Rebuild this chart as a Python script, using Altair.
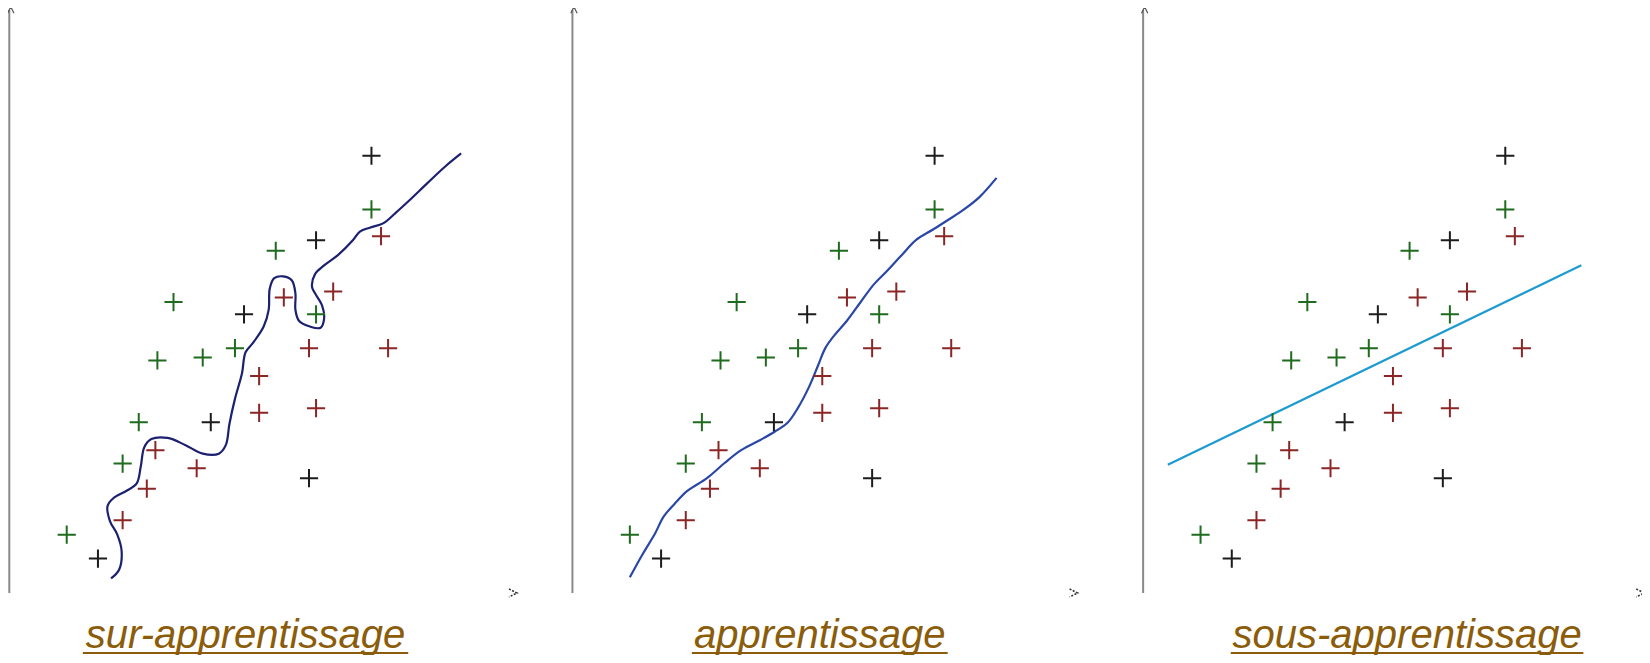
import altair as alt
import pandas as pd

# ---- data (normalised units: 0-100 along each panel's axes) ----
titres = ["sur-apprentissage", "apprentissage", "sous-apprentissage"]
decalage = [0.0, 111.8, 225.1]          # horizontal offset of each panel
titre_x = [46.9, 49.1, 52.4]             # title centre inside each panel
demi_largeur = [32.3, 25.4, 35.0]        # half width of underline
fleche_x = [100.0, 99.5, 98.7]

pts_x = [11.4, 17.6, 22.5, 22.5, 27.3, 29.0, 25.7, 29.4, 32.6, 37.2, 38.4, 40.0, 44.8, 46.6,
         49.6, 49.6, 52.9, 54.5, 59.5, 59.5, 60.9, 60.9, 60.9, 64.3, 71.9, 71.9, 73.8, 75.2]
pts_y = [10.0, 5.9, 12.5, 22.2, 17.9, 24.5, 29.3, 39.9, 49.9, 21.4, 40.4, 29.3, 42.0, 47.8,
         37.2, 30.9, 58.7, 50.7, 42.0, 19.7, 60.5, 47.8, 31.7, 51.7, 75.0, 65.8, 61.2, 42.0]
pts_c = ["v", "n", "r", "v", "r", "r", "v", "v", "v", "r", "v", "n", "v", "n",
         "r", "r", "v", "r", "r", "n", "n", "v", "r", "r", "n", "v", "r", "r"]

c1_x = [20.2, 21.8, 22.3, 21.4, 20.0, 19.5, 20.7, 23.2, 25.3, 26.1, 26.8, 28.2, 31.4, 34.9,
        38.4, 41.6, 43.0, 43.7, 44.8, 46.2, 46.9, 48.3, 50.5, 51.5, 51.7, 52.6, 54.4, 56.1,
        56.8, 56.8, 57.5, 59.7, 61.8, 62.5, 62.1, 60.7, 60.1, 60.7, 62.5, 65.3, 68.2, 69.6,
        71.7, 74.2, 76.7, 79.5, 83.0, 86.6, 89.7]
c1_y = [2.5, 4.0, 7.2, 10.1, 12.3, 14.9, 16.3, 17.5, 18.8, 21.7, 25.0, 26.4, 26.6, 25.4,
        23.9, 23.9, 25.4, 29.0, 33.3, 37.7, 41.3, 42.8, 45.7, 48.6, 52.2, 54.0, 54.3, 53.6,
        51.4, 48.6, 46.7, 45.7, 45.5, 47.1, 49.3, 51.4, 52.5, 54.7, 56.2, 58.0, 60.5, 62.0,
        62.7, 63.4, 65.2, 67.4, 70.3, 73.2, 75.4]

c2_x = [11.4, 13.9, 16.4, 18.1, 20.3, 22.8, 26.7, 30.2, 33.5, 37.4, 40.2, 42.7, 44.8, 47.0,
        48.8, 50.2, 52.0, 54.5, 57.3, 59.8, 62.3, 65.1, 68.3, 71.5, 74.4, 77.6, 80.8, 84.2]
c2_y = [2.7, 6.6, 10.2, 13.1, 15.3, 17.5, 19.7, 22.3, 24.5, 26.3, 27.7, 29.2, 31.8, 35.4,
        39.1, 42.0, 44.2, 46.7, 50.0, 52.9, 55.1, 57.7, 60.6, 62.3, 63.9, 65.7, 67.9, 71.2]

c3_x = [4.9, 87.0]
c3_y = [22.0, 56.2]

couleurs_pts = {"v": "#1f6b1f", "n": "#1c1c1c", "r": "#8c2626"}
couleurs_courbes = ["#1c2070", "#2a47a8", "#1d9bd0"]
couleur_titre = "#8b5c0a"

# ---- tables ----
rows = []
for p in range(3):
    for x, y, c in zip(pts_x, pts_y, pts_c):
        rows.append({"xg": decalage[p] + x, "y": y, "c": c})
df_pts = pd.DataFrame(rows)

rows = []
for p, (cx, cy) in enumerate([(c1_x, c1_y), (c2_x, c2_y), (c3_x, c3_y)]):
    for i, (x, y) in enumerate(zip(cx, cy)):
        rows.append({"xg": decalage[p] + x, "y": y, "i": i, "panneau": titres[p]})
df_c = pd.DataFrame(rows)

df_ax = pd.DataFrame({"xg": decalage, "y": [0.0] * 3, "y2": [100.0] * 3,
                      "xa": [d + f for d, f in zip(decalage, fleche_x)],
                      "xt": [d + 0.3 for d in decalage]})
df_t = pd.DataFrame({"xg": [d + t for d, t in zip(decalage, titre_x)],
                     "x1": [d + t - h for d, t, h in zip(decalage, titre_x, demi_largeur)],
                     "x2": [d + t + h for d, t, h in zip(decalage, titre_x, demi_largeur)],
                     "titre": titres})

# ---- scales ----
PXX = 5.037
PXY = 5.83
W, H = 1634, 647
xmin = -1.3 / PXX
xmax = xmin + W / PXX
ymax = 100 + 2 / PXY
ymin = -(H - 585) / PXY
xs = alt.Scale(domain=[xmin, xmax], nice=False, zero=False)
ys = alt.Scale(domain=[ymin, ymax], nice=False, zero=False)
y_titre = -(640 - 585) / PXY
y_soul = -(645 - 585) / PXY

axes = alt.Chart(df_ax).mark_rule(color="#8a8a8a", strokeWidth=2).encode(
    x=alt.X("xg:Q", scale=xs, axis=None),
    y=alt.Y("y:Q", scale=ys, axis=None),
    y2="y2:Q",
)
haut = alt.Chart(df_ax).mark_point(shape="M-1,1L0,-1L1,1", filled=False, size=40,
                                   strokeWidth=1.2, color="#555555", opacity=1).encode(
    x=alt.X("xt:Q", scale=xs, axis=None),
    y=alt.Y("y2:Q", scale=ys, axis=None),
)
droite = alt.Chart(df_ax).mark_point(shape="M-1,-1L1,0L-1,1", filled=False, size=64,
                                     strokeWidth=1.6, color="#333333", opacity=1,
                                     strokeDash=[2, 1.5]).encode(
    x=alt.X("xa:Q", scale=xs, axis=None),
    y=alt.Y("y:Q", scale=ys, axis=None),
)
croix = alt.Chart(df_pts).mark_point(shape="M-1,0L1,0M0,-1L0,1", filled=False, size=330,
                                     strokeWidth=2.0, opacity=1).encode(
    x=alt.X("xg:Q", scale=xs, axis=None),
    y=alt.Y("y:Q", scale=ys, axis=None),
    color=alt.Color("c:N", scale=alt.Scale(domain=list(couleurs_pts.keys()),
                                           range=list(couleurs_pts.values())), legend=None),
)
courbes = alt.Chart(df_c).mark_line(interpolate="catmull-rom", strokeWidth=2.2).encode(
    x=alt.X("xg:Q", scale=xs, axis=None),
    y=alt.Y("y:Q", scale=ys, axis=None),
    order="i:Q",
    stroke=alt.Stroke("panneau:N", scale=alt.Scale(domain=titres, range=couleurs_courbes),
                      legend=None),
)
textes = alt.Chart(df_t).mark_text(font="Liberation Sans", fontStyle="italic", fontSize=40,
                                   color=couleur_titre, baseline="alphabetic",
                                   align="center").encode(
    x=alt.X("xg:Q", scale=xs, axis=None),
    y=alt.Y("yt:Q", scale=ys, axis=None),
    text="titre:N",
).transform_calculate(yt=str(y_titre))
soulign = alt.Chart(df_t).mark_rule(color=couleur_titre, strokeWidth=2.2).encode(
    x=alt.X("x1:Q", scale=xs, axis=None),
    x2="x2:Q",
    y=alt.Y("yu:Q", scale=ys, axis=None),
).transform_calculate(yu=str(y_soul))

chart = alt.layer(axes, haut, droite, courbes, croix, textes, soulign).resolve_scale(
    color="independent", stroke="independent"
).properties(
    width=W, height=H, padding=0,
    autosize=alt.AutoSizeParams(type="none"),
).configure_view(stroke=None)

chart.save("out.html", embed_options={"renderer": "svg", "actions": False})
